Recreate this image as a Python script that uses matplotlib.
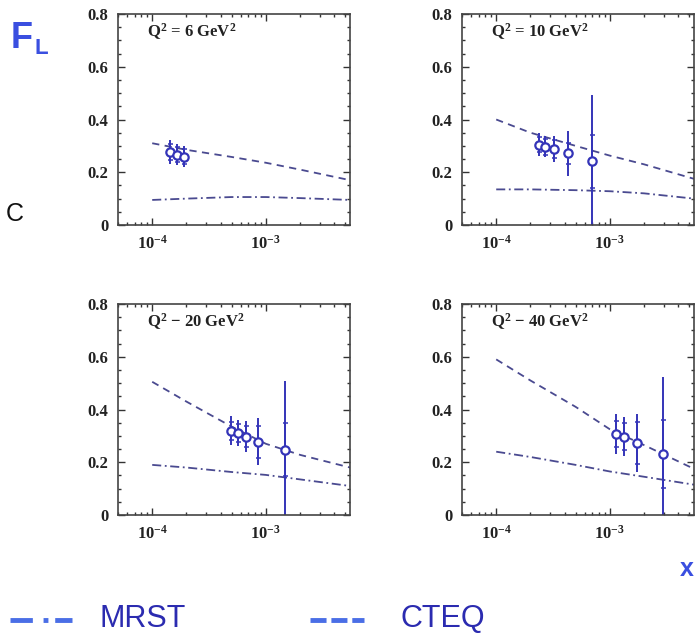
import numpy as np
import matplotlib
matplotlib.use("Agg")
import matplotlib.pyplot as plt
from matplotlib.lines import Line2D

plt.rcParams['font.family'] = ['Liberation Serif', 'DejaVu Serif']
plt.rcParams['mathtext.fontset'] = 'custom'
plt.rcParams['mathtext.rm'] = 'Liberation Serif:bold'
plt.rcParams['mathtext.it'] = 'Liberation Serif:bold'
plt.rcParams['mathtext.bf'] = 'Liberation Serif:bold'

# Q^2 bins
q2_labels = ["Q$^2$ = 6 GeV$^2$", "Q$^2$ = 10 GeV$^2$",
             "Q$^2$ \u2212 20 GeV$^2$", "Q$^2$ \u2212 40 GeV$^2$"]

# measured F_L: x, value, total error, stat error
x_pts = [
    [1.44e-4, 1.66e-4, 1.92e-4],
    [2.36e-4, 2.70e-4, 3.20e-4, 4.25e-4, 6.9e-4],
    [4.9e-4, 5.7e-4, 6.75e-4, 8.6e-4, 1.47e-3],
    [1.13e-3, 1.32e-3, 1.73e-3, 2.96e-3],
]
fl_pts = [
    [0.278, 0.267, 0.259],
    [0.305, 0.297, 0.288, 0.272, 0.241],
    [0.319, 0.310, 0.297, 0.278, 0.247],
    [0.307, 0.297, 0.272, 0.232],
]
err_tot = [
    [0.045, 0.040, 0.040],
    [0.045, 0.040, 0.050, 0.085, 0.25],
    [0.055, 0.050, 0.060, 0.090, 0.26],
    [0.075, 0.075, 0.110, 0.29],
]
err_stat = [
    [0.030, 0.028, 0.028],
    [0.030, 0.030, 0.035, 0.040, 0.10],
    [0.035, 0.035, 0.040, 0.060, 0.10],
    [0.050, 0.050, 0.080, 0.13],
]

# theory curves
x_th = [1e-4, 2e-4, 5e-4, 1e-3, 2e-3, 5.5e-3]
cteq = [
    [0.310, 0.285, 0.258, 0.236, 0.210, 0.170],
    [0.400, 0.350, 0.300, 0.263, 0.230, 0.175],
    [0.505, 0.430, 0.335, 0.270, 0.228, 0.180],
    [0.590, 0.510, 0.410, 0.325, 0.265, 0.175],
]
mrst = [
    [0.095, 0.100, 0.106, 0.106, 0.102, 0.095],
    [0.135, 0.135, 0.132, 0.128, 0.120, 0.100],
    [0.190, 0.180, 0.163, 0.152, 0.135, 0.110],
    [0.240, 0.220, 0.190, 0.165, 0.145, 0.115],
]

pt_col = '#3434b8'
th_col = '#4a4a90'

fig = plt.figure(figsize=(6.95, 6.38), dpi=100)

boxes = [
    (118, 14), (462, 14),
    (118, 304), (462, 304),
]
W, H = 695.0, 638.0
aw, ah = 232, 211

for i, (px, py) in enumerate(boxes):
    ax = fig.add_axes([px / W, 1 - (py + ah) / H, aw / W, ah / H])
    ax.set_xscale('log')
    ax.set_xlim(5e-5, 5.5e-3)
    ax.set_ylim(0, 0.8)

    ax.plot(x_th, cteq[i], color=th_col, lw=1.3, dashes=(4, 3))
    ax.plot(x_th, mrst[i], color=th_col, lw=1.3, dashes=(5, 2, 1, 2))

    ax.errorbar(x_pts[i], fl_pts[i], yerr=err_tot[i], fmt='none',
                ecolor=pt_col, elinewidth=1.4, capsize=0)
    ax.errorbar(x_pts[i], fl_pts[i], yerr=err_stat[i], fmt='none',
                ecolor=pt_col, elinewidth=1.4, capsize=1.8, capthick=1.1)
    ax.plot(x_pts[i], fl_pts[i], 'o', mfc='white', mec=pt_col, ms=6, mew=1.6)

    ax.text(0.125, 0.915, q2_labels[i], transform=ax.transAxes, fontsize=12,
            fontweight='bold', va='center', ha='left', color='#222222')

    ax.set_yticks([0, 0.2, 0.4, 0.6, 0.8])
    ax.set_yticklabels(['0', '0.2', '0.4', '0.6', '0.8'])
    ax.set_yticks(np.arange(0, 0.8, 0.05), minor=True)
    ax.set_xticks([1e-4, 1e-3])
    ax.set_xticklabels(['$10^{-4}$', '$10^{-3}$'])
    ax.tick_params(which='both', direction='in', top=True, right=True,
                   labelsize=12, colors='#333333', width=1.0)
    ax.tick_params(which='major', length=5)
    ax.tick_params(which='minor', length=2.5)
    ax.tick_params(axis='x', pad=7)
    ax.tick_params(axis='y', pad=7)
    for lab in ax.get_yticklabels() + ax.get_xticklabels():
        lab.set_fontweight('bold')
        lab.set_color('#222222')
    for s in ax.spines.values():
        s.set_linewidth(1.2)
        s.set_color('#444444')

# annotations around the panels
hand = ['Liberation Sans', 'DejaVu Sans']
fig.text(11 / W, 1 - 38 / H, 'F', fontsize=26, color='#3a4fe0',
         fontweight='bold', family=hand, va='center', ha='left')
fig.text(35 / W, 1 - 48 / H, 'L', fontsize=16, color='#3a4fe0',
         fontweight='bold', family=hand, va='center', ha='left')
fig.text(6 / W, 1 - 214 / H, 'C', fontsize=18, color='#111111',
         family=hand, va='center', ha='left')
fig.text(680 / W, 1 - 569 / H, 'x', fontsize=18, color='#3a4fe0',
         fontweight='bold', family=hand, va='center', ha='left')

# legend row
leg_col = '#4a6ee6'
txt_col = '#2b2bb0'
fig.add_artist(Line2D([10 / W, 72 / W], [1 - 620 / H, 1 - 620 / H],
                      color=leg_col, lw=3.5, dashes=(4.6, 2.2, 1.0, 1.4),
                      dash_capstyle='butt'))
fig.add_artist(Line2D([310 / W, 364 / W], [1 - 620 / H, 1 - 620 / H],
                      color=leg_col, lw=3.5, dashes=(3.3, 1.0),
                      dash_capstyle='butt'))
fig.text(100 / W, 1 - 619 / H, 'MRST', fontsize=22, color=txt_col,
         family=hand, va='center', ha='left')
fig.text(400 / W, 1 - 619 / H, 'CTEQ', fontsize=22, color=txt_col,
         family=hand, va='center', ha='left')

fig.savefig('out.png', dpi=100)
